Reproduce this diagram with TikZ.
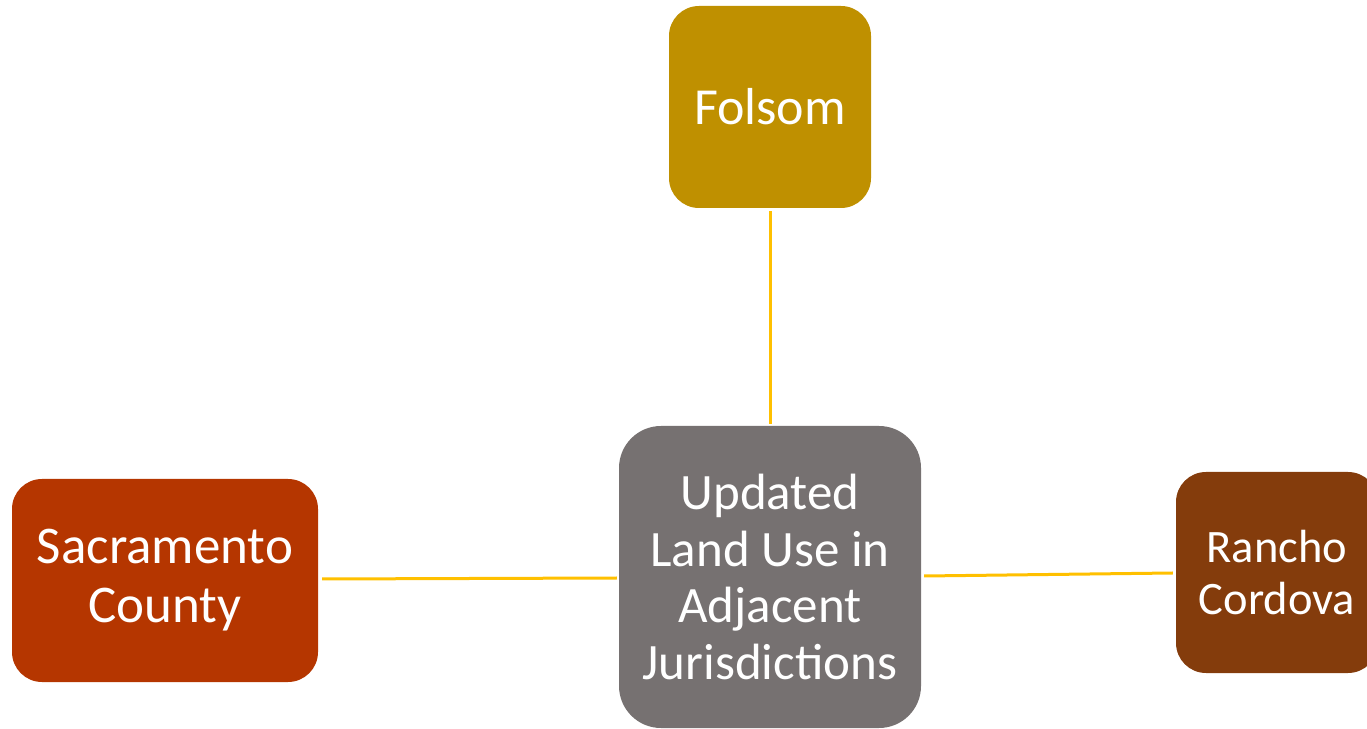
\documentclass[tikz,border=0pt]{standalone}
\usepackage{fontspec}
\setmainfont{Carlito}
\definecolor{linkgold}{HTML}{FFC000}
\definecolor{folsomfill}{HTML}{BF9000}
\definecolor{centerfill}{HTML}{767171}
\definecolor{sacfill}{HTML}{B53600}
\definecolor{ranchofill}{HTML}{843C0C}
\tikzset{
  cityboxstyle/.style={draw=none, rounded corners=30pt, inner sep=0pt,
    minimum width=202pt, minimum height=202pt, text=white, align=center,
    font=\fontsize{52}{58}\selectfont},
  hubstyle/.style={cityboxstyle, rounded corners=42pt,
    minimum width=302pt, minimum height=302pt,
    font=\fontsize{51}{56.5}\selectfont},
  linkstyle/.style={draw=linkgold, line width=3pt}
}
\begin{document}
\begin{tikzpicture}[x=1pt,y=1pt]
  \useasboundingbox (0,0) rectangle (1367,728);
  \clip (0,0) rectangle (1367,728);
  % central topic
  \node[hubstyle, fill=centerfill] (hub) at (770,151) {Updated\\Land Use in\\Adjacent\\Jurisdictions};
  % surrounding jurisdictions
  \node[cityboxstyle, fill=folsomfill] (folsom) at (770,621) {Folsom};
  \node[cityboxstyle, fill=sacfill, minimum width=306pt, minimum height=203pt,
    font=\fontsize{53}{59}\selectfont] (sac) at (165,147.5) {Sacramento\\County};
  \node[cityboxstyle, fill=ranchofill, font=\fontsize{46.5}{52}\selectfont, minimum height=201pt] (rancho) at (1277,155.5) {Rancho\\Cordova};
  % connectors
  \coordinate (folsomEnd) at ([yshift=-3pt]folsom.south);
  \coordinate (hubTop) at ([yshift=2pt]hub.north);
  \draw[linkstyle] (folsomEnd) -- (hubTop);
  \coordinate (sacEnd) at ([xshift=4pt]sac.east |- 0,149);
  \coordinate (hubWest) at ([xshift=-2pt]hub.west |- 0,150);
  \draw[linkstyle] (sacEnd) -- (hubWest);
  \coordinate (hubEast) at ([xshift=3pt]hub.east |- 0,152);
  \coordinate (ranchoEnd) at ([xshift=-3pt]rancho.west |- 0,155);
  \draw[linkstyle] (hubEast) -- (ranchoEnd);
\end{tikzpicture}
\end{document}
